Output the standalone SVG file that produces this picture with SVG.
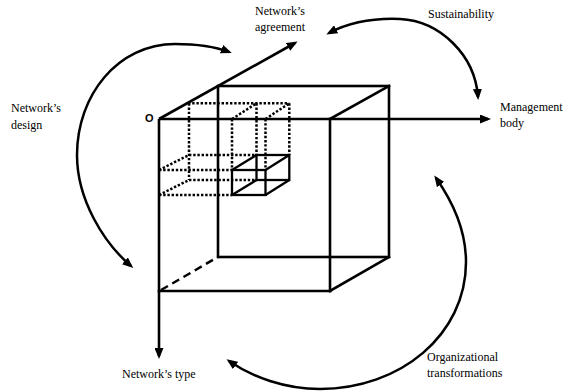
<svg xmlns="http://www.w3.org/2000/svg" width="564" height="391" viewBox="0 0 564 391">
  <style>
    .ln { stroke:#000; stroke-width:2.6; fill:none; stroke-linecap:square; }
    .thin { stroke:#000; stroke-width:2.3; fill:none; }
    .dot { stroke:#000; stroke-width:2.5; fill:none; stroke-dasharray:2.4 1.8; }
    .dash { stroke:#000; stroke-width:2.5; fill:none; stroke-dasharray:8 5; }
    .arc { stroke:#000; stroke-width:2.5; fill:none; }
    .ax { stroke:#000; stroke-width:2.6; fill:none; }
    text { font-family:"Liberation Serif","Times New Roman",serif; font-size:12px; fill:#000; }
  </style>
  <defs>
    <marker id="ah" viewBox="0 0 11 9" refX="8" refY="4.5" markerWidth="11" markerHeight="9" markerUnits="userSpaceOnUse" orient="auto-start-reverse">
      <path d="M0,0 L11,4.5 L0,9 z" fill="#000"/>
    </marker>
  </defs>
  <rect width="564" height="391" fill="#fff"/>

  <g id="projections">
    <line class="dot" x1="188" y1="103.3" x2="289.3" y2="103.3"/>
    <line class="dot" x1="232" y1="119" x2="256.5" y2="103.3"/>
    <line class="dot" x1="265.5" y1="119" x2="289.3" y2="103.3"/>
    <line class="dot" x1="189" y1="103.3" x2="189" y2="180"/>
    <line class="dot" x1="232" y1="119" x2="232" y2="170"/>
    <line class="dot" x1="256.5" y1="103.3" x2="256.5" y2="155"/>
    <line class="dot" x1="265.5" y1="119" x2="265.5" y2="170"/>
    <line class="dot" x1="289.3" y1="103.3" x2="289.3" y2="155"/>
    <line class="dot" x1="189" y1="155" x2="256.5" y2="155"/>
    <line class="dot" x1="159" y1="170" x2="232" y2="170"/>
    <line class="dot" x1="189" y1="180" x2="256.5" y2="180"/>
    <line class="dot" x1="159" y1="195" x2="232" y2="195"/>
    <line class="dot" x1="159" y1="170" x2="189" y2="155"/>
    <line class="dot" x1="159" y1="195" x2="189" y2="180"/>
  </g>

  <g id="cube">
    <rect class="ln" x="218" y="86" width="171" height="171"/>
    <line class="ln" x1="330" y1="119" x2="330" y2="291"/>
    <line class="ln" x1="159" y1="291" x2="330" y2="291"/>
    <line class="ln" x1="330" y1="119" x2="389" y2="86"/>
    <line class="ln" x1="330" y1="291" x2="389" y2="257"/>
    <line class="dash" x1="161" y1="290" x2="218" y2="257"/>
  </g>

  <g id="box">
    <rect class="thin" x="232" y="170" width="33.5" height="25"/>
    <rect class="thin" x="256.5" y="155" width="32.8" height="25"/>
    <line class="thin" x1="232" y1="170" x2="256.5" y2="155"/>
    <line class="thin" x1="265.5" y1="170" x2="289.3" y2="155"/>
    <line class="thin" x1="265.5" y1="195" x2="289.3" y2="180"/>
    <line class="thin" x1="232" y1="195" x2="256.5" y2="180"/>
  </g>

  <g id="axes">
    <line class="ax" x1="159" y1="119" x2="488" y2="119" marker-end="url(#ah)"/>
    <line class="ax" x1="159" y1="119" x2="159" y2="356" marker-end="url(#ah)"/>
    <line class="ax" x1="159" y1="119" x2="295" y2="43" marker-end="url(#ah)"/>
    <text x="145" y="122" font-weight="bold" style="font-family:'Liberation Sans',Arial,sans-serif;font-size:11px">O</text>
  </g>

  <g id="connectors">
    <path class="arc" d="M131,266 C104,243 77,200 77,155 C77,95 118,44 175,44 C200,44 216,47 229,52" marker-start="url(#ah)" marker-end="url(#ah)"/>
    <path class="arc" d="M329,33 C350,22 375,18 400,19 C440,21 475,55 478,97" marker-start="url(#ah)" marker-end="url(#ah)"/>
    <path class="arc" d="M436,178 C455,205 466,235 466,262 C466,335 400,389 320,389 C285,389 252,377 229,361" marker-start="url(#ah)" marker-end="url(#ah)"/>
  </g>

  <g id="label-agreement">
    <text x="280" y="15" text-anchor="middle">Network’s</text>
    <text x="280" y="31" text-anchor="middle">agreement</text>
  </g>
  <g id="label-sustainability">
    <text x="428" y="18">Sustainability</text>
  </g>
  <g id="label-design">
    <text x="11" y="112">Network’s</text>
    <text x="11" y="129">design</text>
  </g>
  <g id="label-management">
    <text x="500" y="111">Management</text>
    <text x="500" y="127">body</text>
  </g>
  <g id="label-type">
    <text x="122" y="378">Network’s type</text>
  </g>
  <g id="label-transformations">
    <text x="427" y="361">Organizational</text>
    <text x="427" y="377">transformations</text>
  </g>
</svg>
